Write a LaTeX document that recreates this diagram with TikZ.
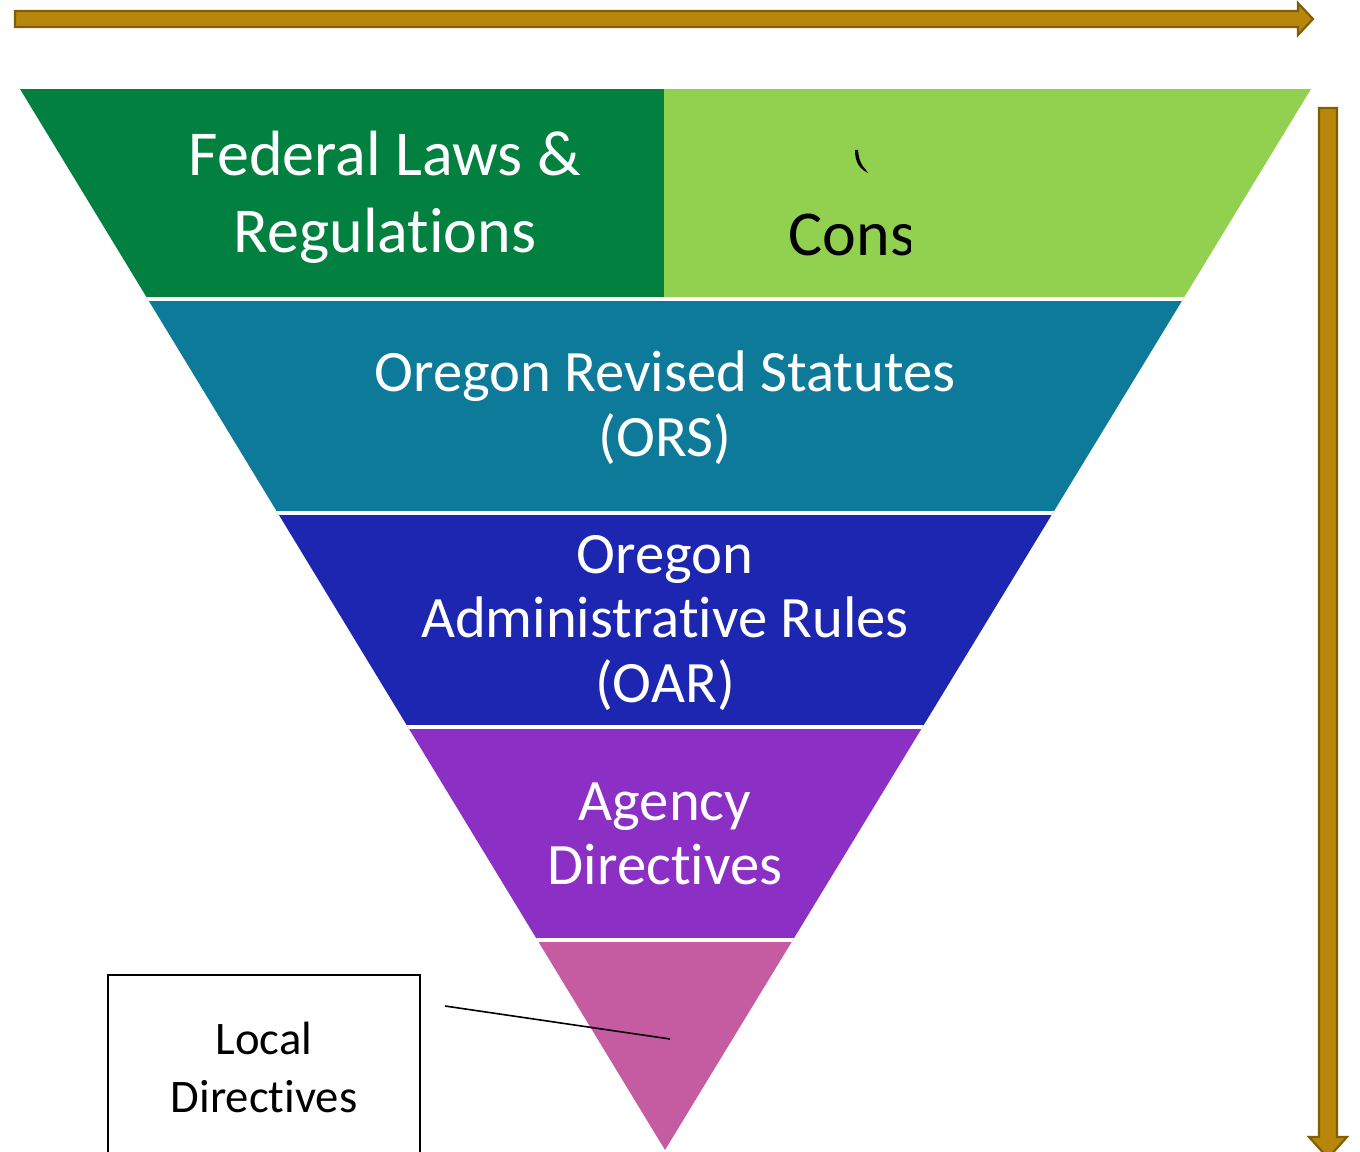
\documentclass[tikz,border=0pt]{standalone}
\usepackage{fontspec}
\setmainfont{Carlito}[Ligatures=NoCommon]
\usetikzlibrary{positioning}

\definecolor{fedgreen}{HTML}{02803F}
\definecolor{constgreen}{HTML}{92D050}
\definecolor{orsteal}{HTML}{0E7A9A}
\definecolor{oarblue}{HTML}{1C26B0}
\definecolor{agencypurple}{HTML}{8B2FC5}
\definecolor{localpink}{HTML}{C55BA0}
\definecolor{arrowgold}{HTML}{B8860B}
\definecolor{arrowedge}{HTML}{7F6000}

\begin{document}
\begin{tikzpicture}[x=0.75pt, y=-0.75pt,
            band/.style = {text=white, align=center, font=\fontsize{44}{48.5}\selectfont},
            topband/.style = {band, font=\fontsize{48}{58}\selectfont},
            sep/.style = {draw=white, line width=2.5pt},
            bigarrow/.style = {fill=arrowgold, draw=arrowedge, line width=1.6pt, line join=miter},
            note/.style = {align=center, font=\fontsize{35}{43.5}\selectfont}]
    \useasboundingbox (0,0) rectangle (1360,1152);

    % the layers, cut out of one triangle
    \begin{scope}
        \clip (20,89) -- (1311,89) -- (665,1150) -- cycle;
        \fill[fedgreen] (0,89) rectangle (664,299);
        \fill[constgreen] (664,89) rectangle (1360,299);
        \fill[orsteal] (0,299) rectangle (1360,513);
        \fill[oarblue] (0,513) rectangle (1360,727);
        \fill[agencypurple] (0,727) rectangle (1360,940);
        \fill[localpink] (0,940) rectangle (1360,1160);
        \foreach \y in {299,513,727,940}
            \draw[sep] (0,\y) -- (1360,\y);
    \end{scope}

    \node[topband] (fed) at (385,197) {Federal Laws \&\\Regulations};
    \begin{scope}
        \clip (664,89) rectangle (910,299);
        \node[topband, text=black, anchor=west] (const) at (784,235) {Cons};
        \fill[black] (855,150) .. controls (855,163) and (860,169) .. (868,173)
            -- (866,170) .. controls (861,165) and (859,160) .. (858,150) -- cycle;
    \end{scope}
    \node[band] (ors) at (665,408) {Oregon Revised Statutes\\(ORS)};
    \node[band] (oar) at (665,623) {Oregon\\Administrative Rules\\(OAR)};
    \node[band] (agency) at (665,834) {Agency\\Directives};

    % callout for the bottom layer
    \draw[line width=1.5pt] (108,1160) |- (420,975) -- (420,1160);
    \node[note] (local) at (264,1067) {Local\\Directives};
    \coordinate (pin) at (670,1039);
    \coordinate (tail) at (445,1006);
    \draw[line width=1.2pt] (tail) -- (pin);

    % block arrows
    \draw[bigarrow] (15,11) -- (1298,11) -- (1298,3) -- (1313,19) -- (1298,35)
        -- (1298,27) -- (15,27) -- cycle;
    \draw[bigarrow] (1319,108) -- (1337,108) -- (1337,1137) -- (1347,1137)
        -- (1328,1158) -- (1309,1137) -- (1319,1137) -- cycle;
\end{tikzpicture}
\end{document}
